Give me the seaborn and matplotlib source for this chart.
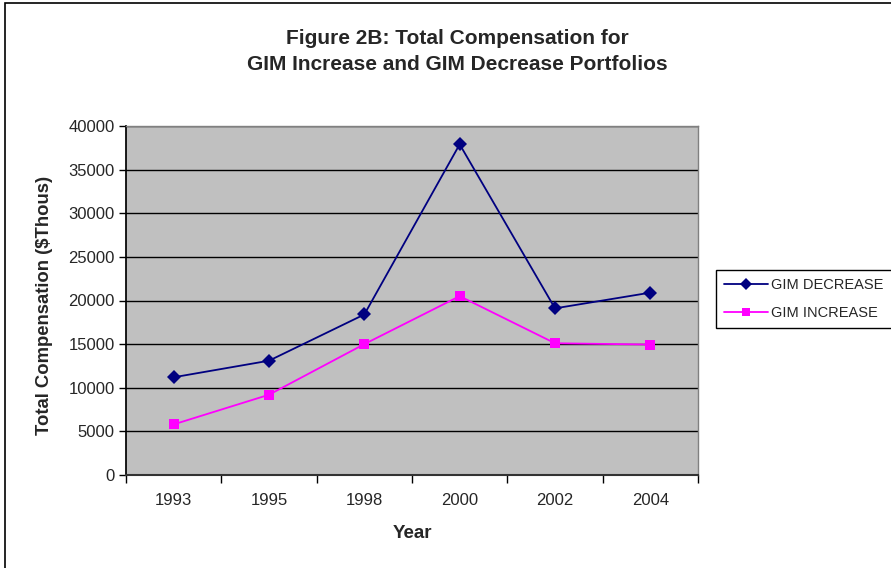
import matplotlib
matplotlib.use("Agg")
import matplotlib.pyplot as plt
import seaborn as sns
import pandas as pd
from matplotlib.patches import Rectangle
from matplotlib.lines import Line2D

years = ["1993", "1995", "1998", "2000", "2002", "2004"]
gim_decrease = [11200, 13100, 18400, 37900, 19100, 20900]
gim_increase = [5800, 9200, 15000, 20500, 15100, 14950]
y_ticks = [0, 5000, 10000, 15000, 20000, 25000, 30000, 35000, 40000]

sns.set_theme(style="white")
plt.rcParams["font.family"] = ["Liberation Sans", "DejaVu Sans"]

pos = list(range(len(years)))
df = pd.DataFrame({
    "pos": pos * 2,
    "value": gim_decrease + gim_increase,
    "series": ["GIM DECREASE"] * len(years) + ["GIM INCREASE"] * len(years),
})

fig = plt.figure(figsize=(8.91, 5.68), dpi=100)
ax = fig.add_axes([126 / 891, 1 - 475 / 568, (698 - 126) / 891, (475 - 126) / 568])
ax.set_facecolor("#C0C0C0")

sns.lineplot(data=df, x="pos", y="value", hue="series", style="series",
             palette={"GIM DECREASE": "#000080", "GIM INCREASE": "#FF00FF"},
             markers={"GIM DECREASE": "D", "GIM INCREASE": "s"},
             dashes=False, linewidth=1.3, markersize=7, markeredgewidth=0,
             ax=ax, legend=False)

ax.set_xlim(-0.5, len(years) - 0.5)
ax.set_ylim(0, 40000)
ax.set_yticks(y_ticks)
ax.set_yticklabels([str(t) for t in y_ticks], fontsize=12)
ax.yaxis.grid(True, color="black", linewidth=1)
ax.set_axisbelow(True)

ax.set_xticks([p - 0.5 for p in pos] + [len(years) - 0.5])
ax.set_xticklabels([])
ax.set_xticks(pos, minor=True)
ax.set_xticklabels(years, minor=True, fontsize=12)
ax.tick_params(axis="x", which="major", length=6, width=1, color="black", direction="out", bottom=True)
ax.tick_params(axis="x", which="minor", length=0, pad=13)
ax.tick_params(axis="y", length=5, width=1, color="black", direction="out", left=True, pad=3)

for s in ["top", "right"]:
    ax.spines[s].set_color("#808080")
    ax.spines[s].set_linewidth(1)
ax.spines["left"].set_color("black")
ax.spines["bottom"].set_color("#333333")
ax.spines["bottom"].set_linewidth(1.5)

ax.set_xlabel("Year", fontsize=13.5, fontweight="bold")
ax.xaxis.set_label_coords((412 - 126) / 572, (475 - 534) / 349)
ax.xaxis.label.set_va("center")
ax.set_ylabel("Total Compensation ($Thous)", fontsize=13.3, fontweight="bold")
ax.yaxis.set_label_coords((45 - 126) / 572, (475 - 305) / 349)
ax.yaxis.label.set_va("center")

fig.text(457 / 891, 1 - 38.5 / 568, "Figure 2B: Total Compensation for",
         ha="center", va="center", fontsize=15, fontweight="bold")
fig.text(457 / 891, 1 - 64.5 / 568, "GIM Increase and GIM Decrease Portfolios",
         ha="center", va="center", fontsize=15, fontweight="bold")

handles = [
    Line2D([], [], color="#000080", marker="D", markersize=6, linewidth=1.3, markeredgewidth=0),
    Line2D([], [], color="#FF00FF", marker="s", markersize=6, linewidth=1.3, markeredgewidth=0),
]
leg = fig.legend(handles, ["GIM DECREASE", "GIM INCREASE"], loc="upper left",
                 bbox_to_anchor=(716 / 891, 1 - 270 / 568), fontsize=10.5,
                 frameon=True, fancybox=False, edgecolor="black", framealpha=1,
                 handlelength=3.0, borderpad=0.55, labelspacing=0.95, handletextpad=0.25,
                 borderaxespad=0)
leg.get_frame().set_linewidth(1)

fig.patches.append(Rectangle((5 / 891, -0.05), 1.2, 1 - 3 / 568 + 0.05,
                             transform=fig.transFigure, fill=False,
                             edgecolor="black", linewidth=1.2, zorder=0))

fig.savefig("out.png", dpi=100)
